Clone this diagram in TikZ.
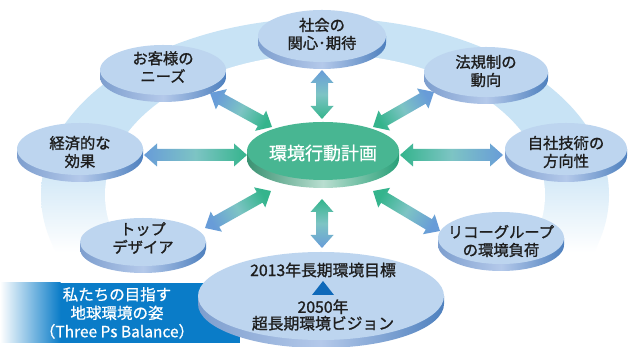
\documentclass[tikz,border=0pt]{standalone}
\usepackage{fontspec}
\newfontfamily\jp{Noto Sans CJK JP}[FakeBold=1.3]
\newfontfamily\jpw{Noto Sans CJK JP}[FakeBold=0.8]
\definecolor{ringblue}{RGB}{200,227,245}
\definecolor{disctop}{RGB}{189,213,239}
\definecolor{discL}{RGB}{125,158,206}
\definecolor{discM}{RGB}{180,201,234}
\definecolor{discR}{RGB}{78,128,190}
\definecolor{greentop}{RGB}{72,182,146}
\definecolor{greenL}{RGB}{58,146,114}
\definecolor{greenM}{RGB}{185,222,208}
\definecolor{greenR}{RGB}{40,160,120}
\definecolor{arrblue}{RGB}{104,156,216}
\definecolor{arrmid}{RGB}{125,196,196}
\definecolor{arrgreen}{RGB}{52,180,140}
\definecolor{bannerblue}{RGB}{10,124,200}
\definecolor{tri}{RGB}{15,105,185}
\definecolor{txt}{RGB}{30,30,30}
\tikzset{
  lbl/.style={align=center, inner sep=0pt, text=txt, font=\jp\fontsize{15.3}{18}\selectfont},
  arrowshade/.style={top color=arrgreen, bottom color=arrblue, middle color=arrmid},
}
\newcommand\bluedisc[5]{%
  \shade[left color=discL, right color=discR, middle color=discM]
    (#1-#3,#2) -- (#1-#3,#2-#5) arc[start angle=180,end angle=360,x radius=#3,y radius=#4] -- (#1+#3,#2) -- cycle;
  \fill[disctop] (#1,#2) ellipse[x radius=#3, y radius=#4];}
\newcommand\dbarrow[2]{%
  \path (#1); \pgfgetlastxy{\ax}{\ay}%
  \path (#2); \pgfgetlastxy{\bx}{\by}%
  \pgfmathsetmacro\ang{atan2(\by-\ay,\bx-\ax)}%
  \pgfmathsetmacro\len{veclen(\bx-\ax,\by-\ay)}%
  \begin{scope}[shift={(#1)}, rotate=\ang]
    \shade[arrowshade, shading angle=\ang-90] (0,0) -- (13,11.5) -- (13,6) -- (\len-13,6) -- (\len-13,11.5) -- (\len,0) -- (\len-13,-11.5) -- (\len-13,-6) -- (13,-6) -- (13,-11.5) -- cycle;
  \end{scope}}
\begin{document}
\begin{tikzpicture}[x=1pt,y=1pt]
\useasboundingbox (0,0) rectangle (628,347);
\fill[white] (0,0) rectangle (628,347);
% ring
\begin{scope}
  \clip (325,152) ellipse[x radius=284, y radius=177];
  \fill[ringblue] (0,190) rectangle (628,347);
  \shade[top color=ringblue, bottom color=white] (0,95) rectangle (628,190.5);
\end{scope}
\fill[white] (325,152) ellipse[x radius=220, y radius=141];
% banner
\fill[bannerblue] (60,4) rectangle (240,64);
\shade[left color=white, right color=bannerblue] (0,4) rectangle (60.5,64);
% arrow end points
\coordinate (kA) at (210,254); \coordinate (kB) at (272,220);
\coordinate (eA) at (144,192); \coordinate (eB) at (247,192);
\coordinate (sA) at (322,277); \coordinate (sB) at (322,228);
\coordinate (hA) at (434,255); \coordinate (hB) at (373,220);
\coordinate (jA) at (503,192); \coordinate (jB) at (400,192);
\coordinate (tA) at (205,119); \coordinate (tB) at (271,156);
\coordinate (rA) at (440,116); \coordinate (rB) at (373,156);
\coordinate (bA) at (322,99);  \coordinate (bB) at (322,148);
\dbarrow{kA}{kB}\dbarrow{eA}{eB}\dbarrow{sA}{sB}\dbarrow{hA}{hB}
\dbarrow{jA}{jB}\dbarrow{tA}{tB}\dbarrow{rA}{rB}\dbarrow{bA}{bB}
% discs
\bluedisc{163}{277}{63}{25}{7}
\bluedisc{322}{311}{64}{26}{7}
\bluedisc{486}{275}{62}{25}{7}
\bluedisc{566}{198}{61}{26}{7}
\bluedisc{80}{198}{63}{26}{7}
\bluedisc{143}{105}{63}{24}{7}
\bluedisc{501}{109}{63}{26}{7}
\bluedisc{321}{51}{123}{44}{8}
% centre disc
\shade[left color=greenL, right color=greenR, middle color=greenM]
  (247,196) -- (247,188) arc[start angle=180,end angle=360,x radius=76,y radius=29] -- (399,196) -- cycle;
\fill[greentop] (323,196) ellipse[x radius=76, y radius=29];
% labels
\node[lbl] (kyaku) at (163,280) {お客様の\\ニーズ};
\node[lbl] (shakai) at (322,313) {社会の\\関心･期待};
\node[lbl] (houki) at (486,276) {法規制の\\動向};
\node[lbl] (jisha) at (566,195) {自社技術の\\方向性};
\node[lbl] (keizai) at (80,195) {経済的な\\効果};
\node[lbl] (top) at (143,109) {トップ\\デザイア};
\node[lbl] (ricoh) at (501,106) {リコーグループ\\の環境負荷};
\node[lbl, text=white, font=\jpw\fontsize{18}{20}\selectfont] (plan) at (323,194) {環境行動計画};
\node[lbl, font=\jp\fontsize{15.8}{18}\selectfont] (goal) at (323,77) {2013年長期環境目標};
\fill[tri] (312,52) -- (334,52) -- (323,66) -- cycle;
\node[lbl, font=\jp\fontsize{15.8}{16.5}\selectfont] (vision) at (323,32) {2050年\\超長期環境ビジョン};
\node[lbl, text=white, font=\jpw\fontsize{15.5}{18.5}\selectfont] (banner) at (117,34) {私たちの目指す\\地球環境の姿\\（Three Ps Balance）};
\end{tikzpicture}
\end{document}
